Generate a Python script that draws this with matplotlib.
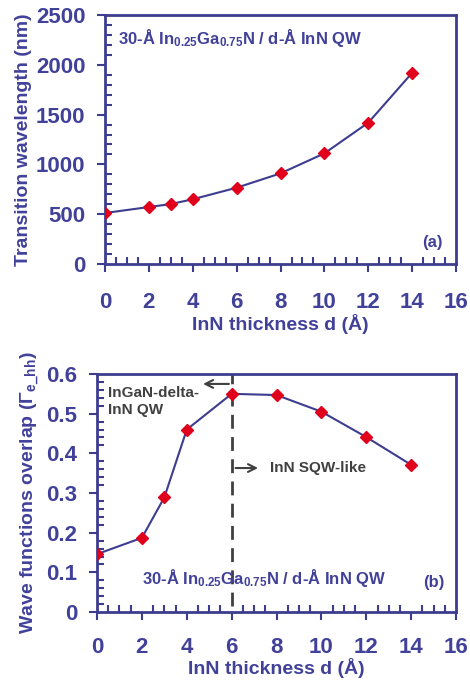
import numpy as np
import matplotlib
matplotlib.use('Agg')
import matplotlib.pyplot as plt
from matplotlib.ticker import MultipleLocator, FuncFormatter

plt.rcParams['font.family'] = ['Liberation Sans', 'DejaVu Sans']
plt.rcParams['font.weight'] = 'bold'
plt.rcParams['axes.labelweight'] = 'bold'
plt.rcParams['mathtext.fontset'] = 'custom'
plt.rcParams['mathtext.rm'] = 'Liberation Sans:bold'
plt.rcParams['mathtext.it'] = 'Liberation Sans:bold'
plt.rcParams['mathtext.bf'] = 'Liberation Sans:bold'

# data
d = [0, 2, 3, 4, 6, 8, 10, 12, 14]
wavelength = [512, 572, 602, 650, 766, 910, 1111, 1419, 1920]
overlap = [0.146, 0.187, 0.289, 0.460, 0.550, 0.547, 0.505, 0.441, 0.371]

blue = '#3d3d8f'
txt = '#41419a'
red = '#e0001b'
gray = '#404040'
qw_label = r'30-Å In$_{0.25}$Ga$_{0.75}$N / d-Å InN QW'

fig = plt.figure(figsize=(4.7, 6.85), dpi=100)
ax1 = fig.add_axes([0.2234, 0.6146, 0.747, 0.3635])
ax2 = fig.add_axes([0.2064, 0.1065, 0.764, 0.3475])

def style(ax, ymaj, ymin, xpad, lpad):
    for s in ax.spines.values():
        s.set_color(blue)
        s.set_linewidth(2)
    ax.set_xlim(0, 16)
    ax.xaxis.set_major_locator(MultipleLocator(2))
    ax.xaxis.set_minor_locator(MultipleLocator(0.5))
    ax.yaxis.set_major_locator(MultipleLocator(ymaj))
    ax.yaxis.set_minor_locator(MultipleLocator(ymin))
    ax.tick_params(which='major', direction='out', length=6, width=1.5,
                   color=blue, labelcolor=txt, labelsize=16, pad=8)
    ax.tick_params(which='minor', direction='in', length=5, width=1.5, color=blue)
    ax.tick_params(axis='x', which='major', pad=xpad)
    ax.set_xlabel('InN thickness d (Å)', color=txt, fontsize=14, labelpad=lpad)

# (a)
ax1.plot(d, wavelength, color=blue, lw=1.5, marker='D', ms=6.5,
         mfc=red, mec=red, zorder=3)
style(ax1, 500, 100, 14, 1)
ax1.set_ylim(0, 2500)
ax1.set_ylabel('Transition wavelength (nm)', color=txt, fontsize=14, labelpad=3)
ax1.text(0.6, 2270, qw_label, color=txt, fontsize=12, va='center')
ax1.text(14.9, 220, '(a)', color=txt, fontsize=12, ha='center', va='center')

# (b)
ax2.plot(d, overlap, color=blue, lw=1.5, marker='D', ms=6.5,
         mfc=red, mec=red, zorder=3)
style(ax2, 0.1, 0.02, 12, 0)
ax2.set_ylim(0, 0.6)
ax2.yaxis.set_major_formatter(FuncFormatter(
    lambda v, p: '0' if abs(v) < 1e-9 else f'{v:.1f}'))
ax2.set_ylabel(r'Wave functions overlap ($\Gamma_{e\_hh}$)', color=txt,
               fontsize=14, labelpad=3)
ax2.plot([6, 6], [0.015, 0.6], color=gray, lw=2, ls=(0, (5, 3)), zorder=2)
ax2.annotate('', xy=(4.6, 0.575), xytext=(6, 0.575),
             arrowprops=dict(arrowstyle='->', color=gray, lw=1.5,
                             mutation_scale=14))
ax2.annotate('', xy=(7.3, 0.363), xytext=(6.05, 0.363),
             arrowprops=dict(arrowstyle='->', color=gray, lw=1.5,
                             mutation_scale=14))
ax2.text(0.5, 0.53, 'InGaN-delta-\nInN QW', color=gray, fontsize=11,
         va='center', linespacing=1.3)
ax2.text(7.7, 0.363, 'InN SQW-like', color=gray, fontsize=11, va='center')
ax2.text(2.0, 0.085, qw_label, color=txt, fontsize=12, va='center')
ax2.text(15.0, 0.075, '(b)', color=txt, fontsize=12, ha='center', va='center')

fig.savefig('out.png', dpi=100)
